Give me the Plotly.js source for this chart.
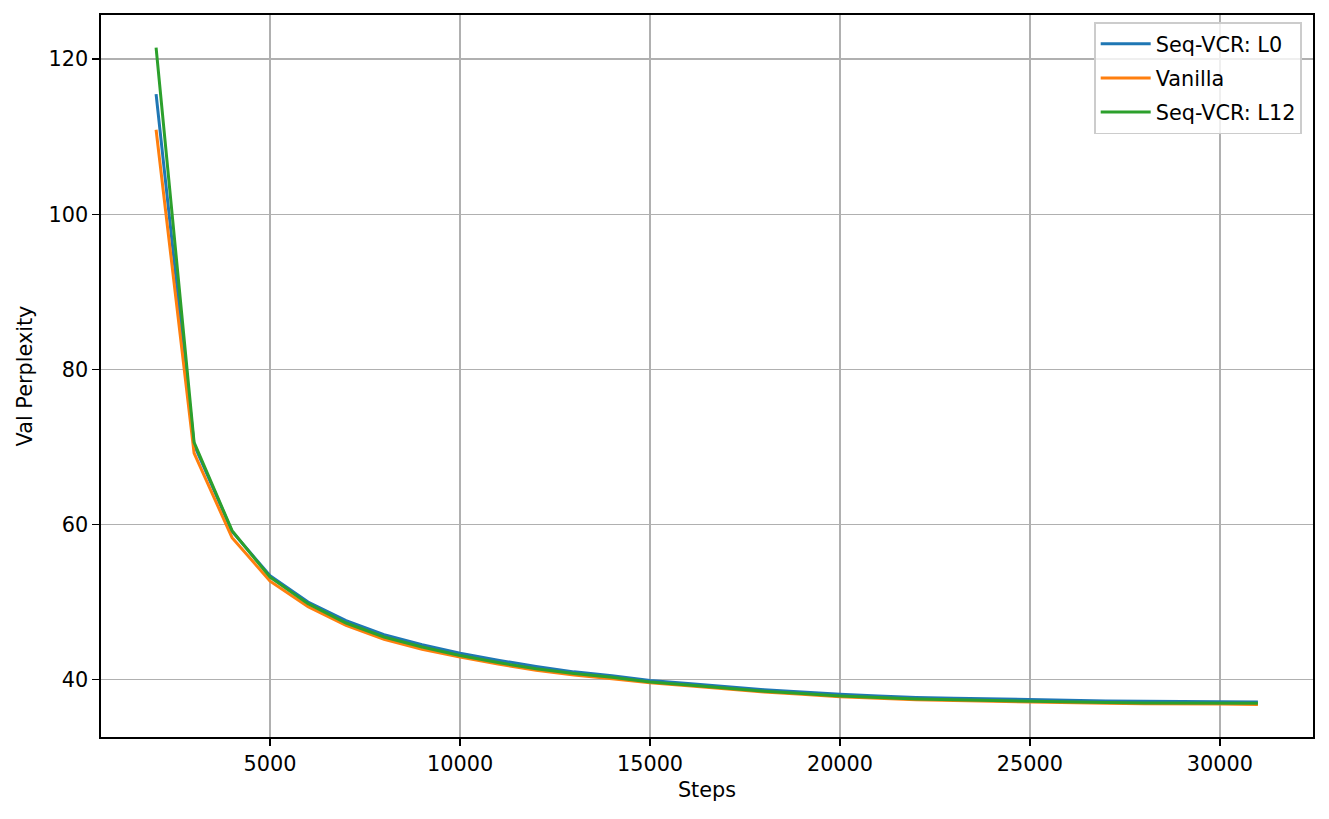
<!DOCTYPE html>
<html>
<head>
<meta charset="utf-8">
<script src="https://cdn.plot.ly/plotly-3.0.1.min.js"></script>
<style>
  html, body { margin: 0; padding: 0; background: #fff; }
  #chart { width: 1329px; height: 819px; }
</style>
</head>
<body>
<div id="chart"></div>
<script>
// validation checkpoints, every 1000 steps
const steps = [2000, 3000, 4000, 5000, 6000, 7000, 8000, 9000, 10000, 11000,
  12000, 13000, 14000, 15000, 16000, 17000, 18000, 19000, 20000, 21000,
  22000, 23000, 24000, 25000, 26000, 27000, 28000, 29000, 30000, 31000];

const seqVcrL0 = [115.5, 70.3, 59.1, 53.4, 50.0, 47.6, 45.8, 44.5, 43.4, 42.5,
  41.7, 41.0, 40.5, 39.9, 39.5, 39.1, 38.7, 38.4, 38.1, 37.9,
  37.7, 37.6, 37.5, 37.4, 37.3, 37.25, 37.2, 37.15, 37.1, 37.1];

const vanilla = [110.9, 69.2, 58.3, 52.7, 49.4, 47.0, 45.2, 43.9, 42.9, 42.0,
  41.2, 40.6, 40.1, 39.6, 39.2, 38.8, 38.4, 38.1, 37.8, 37.6,
  37.4, 37.3, 37.2, 37.1, 37.0, 36.95, 36.9, 36.9, 36.85, 36.8];

const seqVcrL12 = [121.5, 70.6, 59.2, 53.2, 49.8, 47.3, 45.5, 44.2, 43.1, 42.2,
  41.4, 40.8, 40.3, 39.7, 39.3, 38.9, 38.5, 38.2, 37.9, 37.7,
  37.5, 37.4, 37.3, 37.2, 37.1, 37.05, 37.0, 37.0, 36.95, 36.95];

const seriesNames = ['Seq-VCR: L0', 'Vanilla', 'Seq-VCR: L12'];
const seriesColors = ['#1f77b4', '#ff7f0e', '#2ca02c'];

const traces = [seqVcrL0, vanilla, seqVcrL12].map(function (vals, i) {
  return {
    x: steps,
    y: vals,
    name: seriesNames[i],
    legendgroup: 'g' + i,
    type: 'scatter',
    mode: 'lines',
    line: { color: seriesColors[i], width: 3 }
  };
});

const FS = 20.8;

const axisCommon = {
  showline: true,
  mirror: true,
  linecolor: '#000',
  linewidth: 1.6,
  ticks: 'outside',
  ticklen: 7,
  tickwidth: 1.6,
  tickcolor: '#000',
  showgrid: true,
  gridcolor: '#b0b0b0',
  gridwidth: 1.6,
  zeroline: false,
  tickfont: { size: FS, color: '#000' }
};

const layout = {
  width: 1329,
  height: 819,
  margin: { l: 101, r: 16, t: 15, b: 82 },
  paper_bgcolor: '#fff',
  plot_bgcolor: '#fff',
  font: { family: 'DejaVu Sans, sans-serif', size: FS, color: '#000' },
  showlegend: true,
  xaxis: Object.assign({}, axisCommon, {
    range: [550, 32450],
    tickvals: [5000, 10000, 15000, 20000, 25000, 30000],
    tickformat: 'd',
    title: { text: 'Steps', font: { size: FS }, standoff: 8 }
  }),
  yaxis: Object.assign({}, axisCommon, {
    range: [32.6, 125.7],
    tickvals: [40, 60, 80, 100, 120],
    title: { text: 'Val Perplexity', font: { size: FS }, standoff: 10 }
  }),
  legend: {
    x: 0.991,
    y: 0.99,
    xanchor: 'right',
    yanchor: 'top',
    traceorder: 'grouped',
    bgcolor: 'rgba(255,255,255,0.8)',
    bordercolor: '#cccccc',
    borderwidth: 1.6,
    font: { size: FS },
    itemwidth: 50,
    tracegroupgap: 4
  }
};

Plotly.newPlot('chart', traces, layout, { displayModeBar: false, staticPlot: true });
</script>
</body>
</html>
